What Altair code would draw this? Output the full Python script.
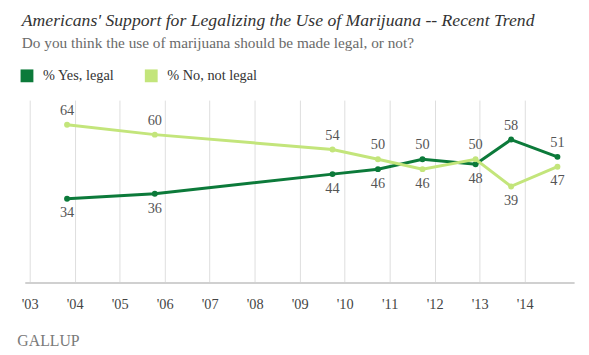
import altair as alt
import pandas as pd

# Survey dates (fractional years) and results
years = [2003.83, 2005.78, 2009.73, 2010.74, 2011.73, 2012.91, 2013.70, 2014.73]
yes_legal = [34, 36, 44, 46, 50, 48, 58, 51]
no_not_legal = [64, 60, 54, 50, 46, 50, 39, 47]
series_names = ["% Yes, legal", "% No, not legal"]
series_colors = ["#0c7a3a", "#c3e57b"]
tick_years = list(range(2003, 2015))

rows = []
for yr, yv, nv in zip(years, yes_legal, no_not_legal):
    rows.append({"year": yr, "series": series_names[0], "value": yv, "above": yv > nv})
    rows.append({"year": yr, "series": series_names[1], "value": nv, "above": nv > yv})
df = pd.DataFrame(rows)

SERIF = "Liberation Serif"

x = alt.X(
    "year:Q",
    scale=alt.Scale(domain=[2002.89, 2015.10], nice=False, zero=False),
    axis=alt.Axis(
        values=tick_years,
        labelExpr="\"'\" + slice(toString(datum.value), 2)",
        grid=True, gridColor="#dddddd", gridWidth=1,
        ticks=False,
        domain=True, domainColor="#d0d0d0", domainWidth=2,
        labelFont=SERIF, labelFontSize=14.5, labelColor="#444444",
        labelPadding=15,
        title="GALLUP", titleFont=SERIF, titleFontSize=16, titleFontWeight="normal",
        titleColor="#7a7a7a", titleAnchor="start", titleAlign="left",
        titleBaseline="alphabetic", titleX=-8, titleY=64,
    ),
)
y = alt.Y("value:Q", scale=alt.Scale(domain=[0, 74], nice=False), axis=None)
color = alt.Color(
    "series:N",
    scale=alt.Scale(domain=series_names, range=series_colors),
    legend=alt.Legend(
        title=None, orient="none", legendX=-5, legendY=-32, direction="horizontal",
        symbolType="square", symbolSize=169, symbolStrokeWidth=0,
        labelFont=SERIF, labelFontSize=14.5, labelColor="#333333",
        labelOffset=9, columnPadding=30,
    ),
)

base = alt.Chart(df)
points = base.mark_circle(size=36, opacity=1).encode(x=x, y=y, color=color)
lines = base.mark_line(strokeWidth=3).encode(x=x, y=y, color=color, detail="series:N")
above = base.transform_filter("datum.above").mark_text(
    dy=-14, font=SERIF, fontSize=14.5, color="#555555", baseline="middle"
).encode(x=x, y=y, text="value:Q")
below = base.transform_filter("!datum.above").mark_text(
    dy=15, font=SERIF, fontSize=14.5, color="#555555", baseline="middle"
).encode(x=x, y=y, text="value:Q")

chart = alt.layer(points, lines, above, below).properties(
    width=557,
    height=185,
    autosize=alt.AutoSizeParams(type="none"),
    padding={"left": 17, "top": 91, "right": 7, "bottom": 70},
    title=alt.Title(
        "Americans' Support for Legalizing the Use of Marijuana -- Recent Trend",
        subtitle="Do you think the use of marijuana should be made legal, or not?",
        anchor="start", frame="group", dx=-3, offset=17,
        font=SERIF, fontStyle="italic", fontSize=17.9, fontWeight="normal", color="#333333",
        subtitleFont=SERIF, subtitleFontSize=15.5, subtitleColor="#6a6a6a", subtitlePadding=7,
    ),
).configure(font=SERIF).configure_view(stroke=None)

chart.save("out.html", embed_options={"renderer": "svg", "actions": False})
